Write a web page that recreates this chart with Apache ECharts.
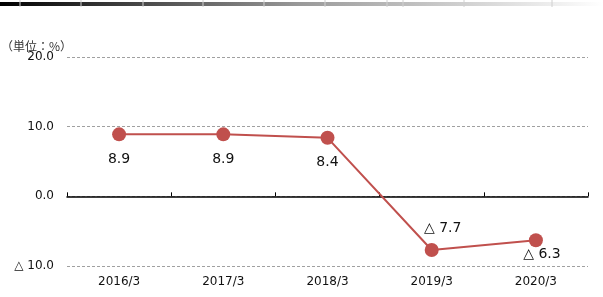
<!DOCTYPE html>
<html>
<head>
<meta charset="utf-8">
<script src="https://cdn.jsdelivr.net/npm/echarts@6/dist/echarts.min.js"></script>
<style>
html,body{margin:0;padding:0;background:#fff;}
#c{width:603px;height:297px;}
</style>
</head>
<body>
<div id="c"></div>
<script>
var categories = ['2016/3', '2017/3', '2018/3', '2019/3', '2020/3'];
var values = [8.9, 8.9, 8.4, -7.7, -6.3];
var yTicks = [-10, 0, 10, 20];
var unitLabel = '（単位：%）';

function fmt(v, digits) {
  var s = Math.abs(v).toFixed(digits);
  return v < 0 ? '△ ' + s : s;
}

// label placement per point (style, not data)
var labelPlacement = [
  {position: 'bottom', distance: 11, offset: [0, 0]},
  {position: 'bottom', distance: 11, offset: [0, 0]},
  {position: 'bottom', distance: 11, offset: [0, 0]},
  {position: 'top', distance: 8, offset: [11, 0]},
  {position: 'bottom', distance: 0, offset: [6, 0]}
];

var chart = echarts.init(document.getElementById('c'), null, {renderer: 'canvas'});

var seriesData = values.map(function (v, i) {
  var p = labelPlacement[i];
  return {
    value: v,
    label: {position: p.position, distance: p.distance, offset: p.offset}
  };
});

var tickLines = [20, 81, 143, 203, 264, 325, 387, 403, 464, 552].map(function (x) {
  return {
    type: 'line',
    shape: {x1: x, y1: 0, x2: x, y2: 7},
    style: {stroke: '#d0d0d0', lineWidth: 1},
    z: 11
  };
});

var option = {
  animation: false,
  backgroundColor: '#ffffff',
  grid: {left: 67, right: 15, top: 57, bottom: 31, containLabel: false},
  graphic: [
    {
      type: 'rect',
      shape: {x: 0, y: 2, width: 603, height: 4},
      style: {
        fill: new echarts.graphic.LinearGradient(0, 0, 1, 0, [
          {offset: 0, color: '#000000'},
          {offset: 0.5, color: '#9a9a9a'},
          {offset: 1, color: '#ffffff'}
        ])
      },
      z: 10
    },
    {
      type: 'text',
      left: 1,
      top: 40,
      style: {
        text: unitLabel,
        font: '12px "Noto Sans CJK JP"',
        fill: '#333333'
      }
    }
  ].concat(tickLines),
  xAxis: [
    {
      type: 'category',
      data: categories,
      position: 'bottom',
      boundaryGap: true,
      axisLine: {show: false, onZero: false},
      axisTick: {show: false},
      axisLabel: {
        margin: 10,
        fontFamily: 'DejaVu Sans',
        fontSize: 12,
        color: '#111111'
      }
    },
    {
      type: 'category',
      data: categories,
      position: 'bottom',
      boundaryGap: true,
      axisLine: {show: true, onZero: true, lineStyle: {color: '#000000', width: 1.5}},
      axisTick: {show: true, inside: true, length: 4, lineStyle: {color: '#000000', width: 1}},
      axisLabel: {show: false}
    }
  ],
  yAxis: {
    type: 'value',
    min: yTicks[0],
    max: yTicks[yTicks.length - 1],
    interval: 10,
    axisLine: {show: false},
    axisTick: {show: false},
    splitLine: {
      show: true,
      lineStyle: {color: '#a0a0a0', type: [3, 2], width: 1}
    },
    axisLabel: {
      margin: 13,
      fontFamily: 'DejaVu Sans',
      fontSize: 12,
      color: '#111111',
      padding: [4, 0, 0, 0],
      formatter: function (v) { return fmt(v, 1); }
    }
  },
  series: [{
    type: 'line',
    xAxisIndex: 0,
    data: seriesData,
    symbol: 'circle',
    symbolSize: 14,
    itemStyle: {color: '#c0504d'},
    lineStyle: {color: '#c0504d', width: 2},
    label: {
      show: true,
      fontFamily: 'DejaVu Sans',
      fontSize: 14,
      color: '#111111',
      formatter: function (p) { return fmt(p.value, 1); }
    },
    z: 5
  }]
};

chart.setOption(option);
</script>
</body>
</html>
